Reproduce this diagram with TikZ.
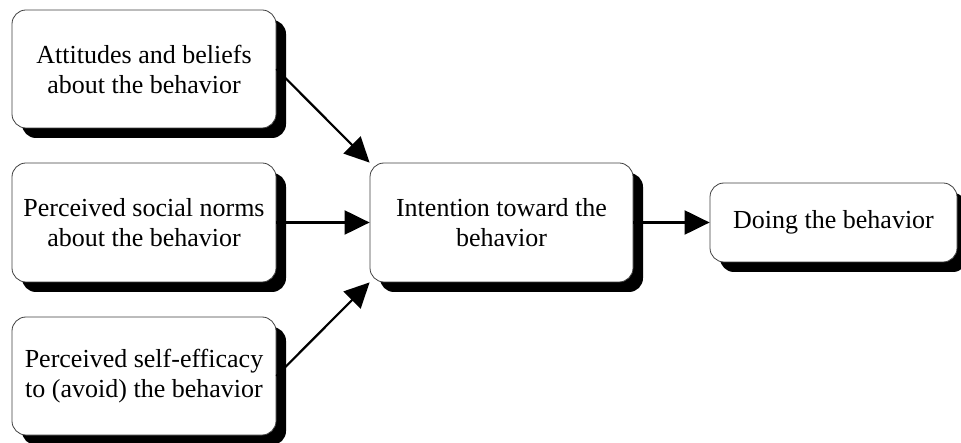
\documentclass[tikz,border=0pt]{standalone}
\usepackage{fontspec}
\setmainfont{Liberation Serif}
\usetikzlibrary{arrows.meta,shadows}
\begin{document}
\begin{tikzpicture}[x=1pt,y=-1pt,
  box/.style={draw=black!75, line width=0.8pt, fill=white, rounded corners=14pt,
    align=center, inner sep=0pt, font=\fontsize{26}{30}\selectfont,
    drop shadow={shadow xshift=10pt, shadow yshift=-10pt, fill=black, opacity=1}},
  arr/.style={line width=2.2pt, -{Triangle[length=25pt,width=24pt]}}]
\useasboundingbox (0,0) rectangle (961,443);
\node[box, minimum width=264pt, minimum height=118pt] (att) at (144,69) {Attitudes and beliefs\\about the behavior};
\node[box, minimum width=264pt, minimum height=119pt] (norm) at (144,222.5) {Perceived social norms\\about the behavior};
\node[box, minimum width=264pt, minimum height=118pt] (eff) at (144,376) {Perceived self-efficacy\\to (avoid) the behavior};
\node[box, minimum width=263pt, minimum height=119pt] (int) at (501.5,222.5) {Intention toward the\\behavior};
\node[box, minimum width=247pt, minimum height=79pt] (do) at (833.5,222.5) {Doing the behavior};
\draw[arr] (att.east) -- (int.north west);
\draw[arr] (norm.east) -- (int.west);
\draw[arr] (eff.east) -- (int.south west);
\draw[arr] (int.east) -- (do.west);
\end{tikzpicture}
\end{document}
